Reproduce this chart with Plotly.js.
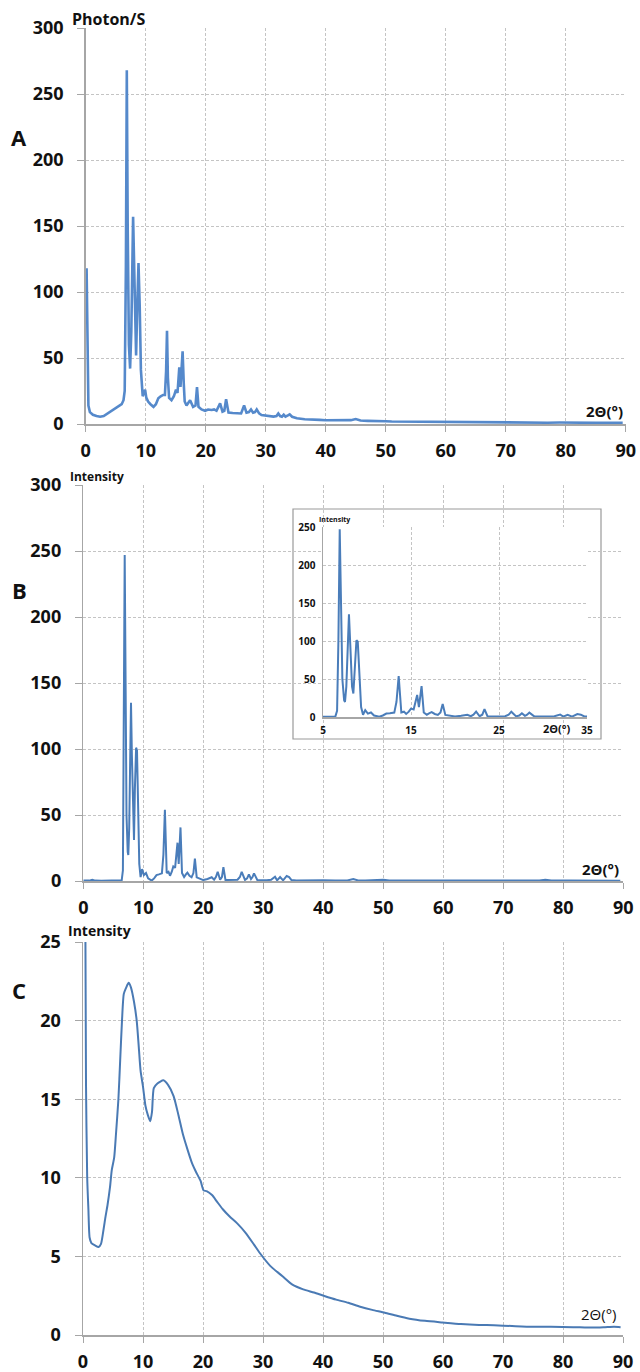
<!DOCTYPE html>
<html><head><meta charset="utf-8">
<script src="https://cdn.plot.ly/plotly-3.0.1.min.js"></script>
<style>html,body{margin:0;padding:0;background:#fff}</style>
</head><body>
<div id="chart" style="width:640px;height:1372px"></div>
<script>
// Panel A: XRD pattern (Photon/S)
const aX = [0.15,0.3,0.45,0.7,1.2,1.8,2.4,3.0,3.5,4.0,4.5,5.0,5.5,6.0,6.3,6.5,6.7,6.85,7.0,7.2,7.4,7.6,7.9,8.1,8.4,8.6,8.8,9.0,9.2,9.5,9.7,9.9,10.1,10.4,10.8,11.3,11.7,12.1,12.5,12.9,13.2,13.4,13.55,13.7,13.9,14.3,14.7,15.05,15.3,15.6,15.8,16.15,16.35,16.5,16.8,17.1,17.4,17.7,17.9,18.3,18.55,18.8,19.3,19.9,20.4,21.0,21.4,21.8,22.4,22.8,23.1,23.4,23.8,24.5,25.2,25.9,26.4,26.8,27.2,27.55,27.9,28.2,28.5,28.9,29.3,30.2,31.3,31.8,32.1,32.4,32.7,33.0,33.3,33.7,34.0,34.4,35.2,36.5,37.9,39,40,41.5,43,44.2,45,45.8,47,48.5,50,51,53,55,57,59,61,63,65,67,69,71,73,75,77,79,81,83,85,87,89.5];
const aY = [118,60,14,9,7,6,5.5,6,7.5,9,10,11.5,13,15,18,25,120,268,150,60,42,70,157,110,52,90,122,90,41,21,24,26,20,17,15,13,15,19.5,21,22,22,40,70.7,35,19.7,18,21,26,23.5,43,28,55,30,17,14,16,18,15,13,14,28,13,11,10,11,10.6,11,10,15.6,9.3,10,18.7,8.6,8.3,8,8,14,8.6,9,11,8.6,9,11,8,6.8,6.3,5.6,6,8,6,5.5,7,5.5,6.5,7.3,5.5,4.3,3.6,3,3.1,2.8,2.9,2.7,2.9,3.8,2.6,2.4,2.5,2.1,1.9,1.8,1.6,1.7,1.4,1.4,1.2,1.3,1.1,1.1,1.0,1.1,1.0,1.0,1.1,0.9,1.0,0.9,1.0,0.9];

// Panel B: XRD pattern (Intensity), also shown in inset
const bX = [0,1,1.5,2,3,4,5,6,6.4,6.6,6.75,6.9,7.05,7.2,7.4,7.5,7.65,7.8,7.95,8.1,8.3,8.45,8.6,8.8,8.95,9.1,9.33,9.55,9.8,10.1,10.45,10.8,11.4,11.8,12.2,12.6,13.1,13.35,13.6,13.75,13.9,14.2,14.45,14.75,15.0,15.3,15.5,15.7,15.9,16.2,16.45,16.8,17.1,17.35,17.7,18.05,18.35,18.6,18.9,19.4,20,20.7,21.4,21.8,22.1,22.4,22.8,23.1,23.35,23.7,24.3,25,25.7,26.1,26.4,26.95,27.3,27.6,27.95,28.2,28.45,29,29.8,30.6,31.3,31.95,32.3,32.8,33.3,33.9,34.3,34.7,35.5,37,38.5,40,42,44,45,45.8,47,48.5,50,51,53,55,57,59,61,63,65,67,70,73,76,77,78,81,84,87,89.5];
const bY = [0.3,0.3,1.0,0.3,0.2,0.3,0.2,0.3,0.5,8,100,247,150,50,22,19.7,40,100,135,95,40,31,70,101,99,60,13,3,9,4.5,6,2,0.3,2,4.5,5,5.8,20,54,30,6,7,4,7,11,10,18,29,13,40.6,6,3,5,6.3,4,2.8,6,17,2.8,2,0.7,1.5,2.8,1,3,7,1,3,10.4,0.7,0.8,0.5,1,3,7,0.8,2,5,1.5,3,5.8,0.8,0.6,0.5,1,3.3,0.5,3,0.5,3.8,3,0.7,0.4,0.6,0.3,0.5,0.3,0.4,1.5,0.4,0.3,0.4,1.0,0.3,0.3,0.4,0.3,0.3,0.4,0.3,0.3,0.2,0.3,0.3,0.4,1,0.3,0.3,0.2,0.3,0.2];

// Panel C: amorphous pattern (Intensity)
const cX = [0.25,0.5,0.7,0.9,1.1,1.4,2.0,2.6,3.0,3.3,3.7,4.1,4.5,4.8,5.2,5.5,5.9,6.2,6.5,6.8,7.2,7.6,8.0,8.5,8.95,9.3,9.6,10.0,10.4,10.8,11.2,11.5,11.8,12.4,13.4,14.2,15.1,15.9,16.7,17.5,18.2,18.8,19.6,20.1,20.6,21.5,22.3,23.3,24.4,25.7,27.1,28.5,29.5,31.2,33.2,34.9,36.7,38.5,40.1,42.2,44.2,46.2,48.2,50.3,52.3,54.4,57,59.9,63,66,68.5,71.5,74.9,78,81.7,85.1,87,88.5,89.6];
const cY = [40,16,10,8,6.2,5.85,5.7,5.6,5.8,6.4,7.4,8.3,9.4,10.5,11.3,12.8,15.0,17.5,20.0,21.7,22.1,22.4,22.1,21.2,20.0,18.3,16.8,15.8,14.6,14.0,13.6,14.2,15.7,16.0,16.2,15.9,15.2,14.0,12.7,11.7,10.9,10.4,9.8,9.2,9.15,8.9,8.5,8.0,7.55,7.1,6.5,5.75,5.2,4.4,3.75,3.2,2.9,2.7,2.5,2.25,2.05,1.8,1.6,1.42,1.22,1.04,0.9,0.8,0.7,0.64,0.62,0.57,0.52,0.52,0.5,0.47,0.5,0.53,0.5];

const xTicks = [0,10,20,30,40,50,60,70,80,90];
const yTicksAB = [0,50,100,150,200,250,300];
const yTicksC = [0,5,10,15,20,25];
const insetXTicks = [5,15,25,35];
const insetYTicks = [0,50,100,150,200,250];

const px = x => x / 640;
const py = y => 1 - y / 1372;

const FONT = '"Open Sans", "Noto Sans", sans-serif';
const gridC = '#c4c4c4';
const axisC = '#a6a6a6';

function xax(dom, anchor, ticks, size, extra) {
  return Object.assign({
    domain: dom, anchor: anchor, range: [ticks[0], ticks[ticks.length-1]],
    tickmode: 'array', tickvals: ticks, ticktext: ticks.map(String),
    showgrid: true, gridcolor: gridC, griddash: '3px,2px', gridwidth: 1,
    showline: true, linecolor: axisC, linewidth: 1.5,
    ticks: 'outside', ticklen: 6, tickcolor: axisC,
    zeroline: false, fixedrange: true,
    tickfont: {family: FONT, size: size, color: '#111', weight: 'bold'}
  }, extra || {});
}
function yax(dom, anchor, ticks, size, extra) {
  return Object.assign({
    domain: dom, anchor: anchor, range: [ticks[0], ticks[ticks.length-1]],
    tickmode: 'array', tickvals: ticks, ticktext: ticks.map(String),
    showgrid: true, gridcolor: gridC, griddash: '3px,2px', gridwidth: 1,
    showline: true, linecolor: axisC, linewidth: 1.5,
    ticks: 'outside', ticklen: 7, tickcolor: axisC,
    zeroline: false, fixedrange: true,
    tickfont: {family: FONT, size: size, color: '#111', weight: 'bold'}
  }, extra || {});
}

const traces = [
  {x: aX, y: aY, xaxis: 'x', yaxis: 'y', mode: 'lines', line: {color: '#5589cb', width: 2.6}, hoverinfo: 'skip'},
  {x: bX, y: bY, xaxis: 'x2', yaxis: 'y2', mode: 'lines', line: {color: '#4a7dba', width: 2}, hoverinfo: 'skip'},
  {x: cX, y: cY, xaxis: 'x3', yaxis: 'y3', mode: 'lines', line: {color: '#4a7ab4', width: 2, shape: 'spline', smoothing: 0.6}, hoverinfo: 'skip'},
  {x: bX, y: bY, xaxis: 'x4', yaxis: 'y4', mode: 'lines', line: {color: '#4a7dba', width: 2}, hoverinfo: 'skip'}
];

function ann(text, x, y, size, bold) {
  return {text: text, x: px(x), y: py(y), xref: 'paper', yref: 'paper', xanchor: 'center', yanchor: 'middle',
          showarrow: false, font: {family: FONT, size: size, color: '#111', weight: bold ? 'bold' : 'normal'}};
}

const layout = {
  width: 640, height: 1372,
  margin: {l: 0, r: 0, t: 0, b: 0},
  paper_bgcolor: '#fff', plot_bgcolor: '#fff',
  showlegend: false,
  xaxis:  xax([px(85.7), px(625.7)], 'y', xTicks, 18, {ticklabelstandoff: 4}),
  yaxis:  yax([py(424), py(28)], 'x', yTicksAB, 18, {ticklabelstandoff: 10}),
  xaxis2: xax([px(83.3), px(623.3)], 'y2', xTicks, 18, {ticklabelstandoff: 4}),
  yaxis2: yax([py(881), py(485)], 'x2', yTicksAB, 18, {ticklabelstandoff: 10}),
  xaxis3: xax([px(83), px(623)], 'y3', xTicks, 18, {ticklabelstandoff: 4}),
  yaxis3: yax([py(1335), py(942)], 'x3', yTicksC, 18, {ticklabelstandoff: 10}),
  xaxis4: xax([px(323), px(587)], 'y4', insetXTicks, 10, {ticklen: 0, ticks: '', ticklabelstandoff: 3}),
  yaxis4: yax([py(717), py(527)], 'x4', insetYTicks, 10, {ticklen: 0, ticks: '', ticklabelstandoff: 4}),
  shapes: [
    {type: 'rect', xref: 'x2 domain', yref: 'y2 domain', layer: 'below',
     x0: (293-83.3)/540, x1: (601-83.3)/540, y0: (881-739)/396, y1: (881-509)/396,
     fillcolor: '#fff', line: {color: '#9a9a9a', width: 1.2}}
  ],
  annotations: [
    ann('A', 19, 137, 22, true),
    ann('B', 19, 590, 22, true),
    ann('C', 19, 990, 22, true),
    ann('Photon/S', 108, 19, 16, true),
    ann('Intensity', 97, 477, 12, true),
    ann('Intensity', 99, 930, 14, true),
    ann('Intensity', 334, 519, 7, true),
    ann('2Θ(°)', 604, 411, 15, true),
    ann('2Θ(°)', 600, 869, 15, true),
    ann('2Θ(°)', 599, 1314, 15, false),
    ann('2Θ(°)', 556, 729, 11, true)
  ]
};

Plotly.newPlot('chart', traces, layout, {staticPlot: true, displayModeBar: false});
</script>
</body></html>
